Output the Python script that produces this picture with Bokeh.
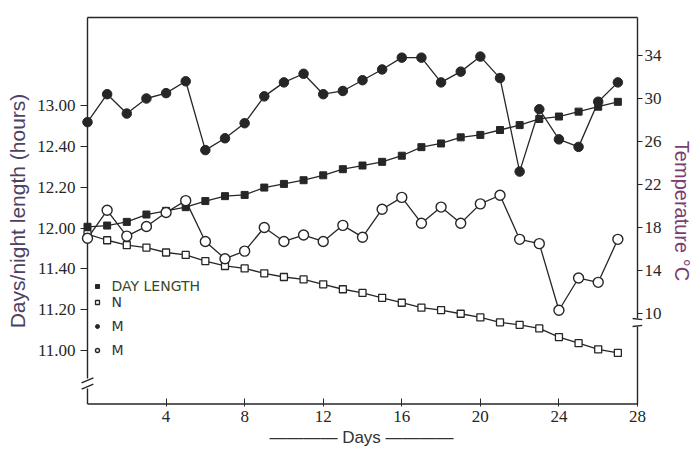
from bokeh.plotting import figure
from bokeh.models import Range1d, LinearAxis, FixedTicker, Legend, LegendItem
from bokeh.embed import file_html
from bokeh.resources import INLINE

# ---------------- data ----------------
days = list(range(28))
day_length = [12.01, 12.02, 12.05, 12.11, 12.14, 12.17, 12.22, 12.26, 12.27, 12.33,
              12.36, 12.39, 12.43, 12.48, 12.51, 12.54, 12.59, 12.66, 12.69, 12.74,
              12.76, 12.80, 12.84, 12.89, 12.91, 12.95, 12.99, 13.03]
night_length = [11.95, 11.90, 11.86, 11.84, 11.80, 11.78, 11.73, 11.69, 11.67, 11.63,
                11.60, 11.58, 11.54, 11.50, 11.47, 11.43, 11.39, 11.35, 11.33, 11.30,
                11.27, 11.23, 11.21, 11.18, 11.11, 11.06, 11.01, 10.98]
max_temp = [27.8, 30.4, 28.6, 30.0, 30.5, 31.6, 25.2, 26.3, 27.7, 30.2,
            31.5, 32.3, 30.4, 30.7, 31.7, 32.7, 33.8, 33.8, 31.5, 32.5,
            33.9, 31.9, 23.2, 29.0, 26.2, 25.5, 29.7, 31.5]
min_temp = [17.0, 19.6, 17.2, 18.1, 19.4, 20.5, 16.7, 15.1, 15.8, 18.0,
            16.7, 17.3, 16.7, 18.2, 17.1, 19.7, 20.8, 18.4, 19.9, 18.4,
            20.2, 21.0, 16.9, 16.5, 10.3, 13.3, 12.9, 16.9]

x_ticks = [4, 8, 12, 16, 20, 24, 28]
hour_ticks = [11.0, 11 + 1 / 3, 11 + 2 / 3, 12.0, 12 + 1 / 3, 12 + 2 / 3, 13.0]
hour_labels = ["11.00", "11.20", "11.40", "12.00", "12.20", "12.40", "13.00"]
temp_ticks = [10, 14, 18, 22, 26, 30, 34]
legend_labels = ["DAY LENGTH", "N", "M", "M"]
x_title = "\u2014\u2014\u2014\u2014 Days \u2014\u2014\u2014\u2014"
left_title = "Days/night length (hours)"
right_title = "Temperature \u00b0C"

# ---------------- layout constants ----------------
X_RANGE = (-0.3564, 28.2545)
HOUR_RANGE = (10.5429, 13.7347)
TEMP_RANGE = (1.349, 37.721)
FRAME_TOP_H = 13.7184      # top frame line (hours)
FRAME_BOT_H = 10.5633      # bottom frame line (hours)
LEFT_X, RIGHT_X = 0, 28    # vertical frame lines (days)
LEFT_BREAK = (10.7714, 10.6898)   # gap in left axis (hours)
RIGHT_BREAK = (9.535, 8.791)      # gap in right axis (deg C)
DX = 0.25

INK = "#262626"
TICK_FONT = "Liberation Sans Narrow"

p = figure(width=695, height=456, x_range=Range1d(*X_RANGE), y_range=Range1d(*HOUR_RANGE),
           output_backend="svg", toolbar_location=None,
           min_border_left=80, min_border_right=53, min_border_top=15, min_border_bottom=50,
           outline_line_color=None, background_fill_color="white", border_fill_color="white")
p.extra_y_ranges = {"temp": Range1d(*TEMP_RANGE)}
p.grid.visible = False

# ---------------- frame drawn as segments (with axis breaks) ----------------
p.segment(x0=[LEFT_X], y0=[FRAME_TOP_H], x1=[RIGHT_X], y1=[FRAME_TOP_H], line_color=INK, line_width=1.4)
p.segment(x0=[LEFT_X], y0=[FRAME_BOT_H], x1=[RIGHT_X], y1=[FRAME_BOT_H], line_color=INK, line_width=1.4)
p.segment(x0=[LEFT_X, LEFT_X], y0=[FRAME_TOP_H, LEFT_BREAK[1]], x1=[LEFT_X, LEFT_X],
          y1=[LEFT_BREAK[0], FRAME_BOT_H], line_color=INK, line_width=1.4)
p.segment(x0=[LEFT_X - DX * 1.2, LEFT_X - DX * 1.2],
          y0=[LEFT_BREAK[0] - 0.035, LEFT_BREAK[1] - 0.005],
          x1=[LEFT_X + DX * 1.2, LEFT_X + DX * 1.2],
          y1=[LEFT_BREAK[0] + 0.005, LEFT_BREAK[1] + 0.035], line_color=INK, line_width=1.4)
TOP_T = TEMP_RANGE[0] + (FRAME_TOP_H - HOUR_RANGE[0]) / (HOUR_RANGE[1] - HOUR_RANGE[0]) * (TEMP_RANGE[1] - TEMP_RANGE[0])
BOT_T = TEMP_RANGE[0] + (FRAME_BOT_H - HOUR_RANGE[0]) / (HOUR_RANGE[1] - HOUR_RANGE[0]) * (TEMP_RANGE[1] - TEMP_RANGE[0])
p.segment(x0=[RIGHT_X, RIGHT_X], y0=[TOP_T, RIGHT_BREAK[1]], x1=[RIGHT_X, RIGHT_X],
          y1=[RIGHT_BREAK[0], BOT_T], line_color=INK, line_width=1.4, y_range_name="temp")
p.segment(x0=[RIGHT_X - DX, RIGHT_X - DX], y0=[RIGHT_BREAK[0], RIGHT_BREAK[1]],
          x1=[RIGHT_X + DX, RIGHT_X + DX], y1=[RIGHT_BREAK[0] - 0.1, RIGHT_BREAK[1] + 0.1],
          line_color=INK, line_width=1.4, y_range_name="temp")

# ---------------- series ----------------
p.line(days, day_length, line_color=INK, line_width=1.3)
p.line(days, night_length, line_color=INK, line_width=1.3)
p.line(days, max_temp, line_color=INK, line_width=1.3, y_range_name="temp")
p.line(days, min_temp, line_color=INK, line_width=1.3, y_range_name="temp")

r_day = p.scatter(days, day_length, marker="square", size=7, fill_color=INK, line_color=INK)
r_night = p.scatter(days, night_length, marker="square", size=7, fill_color="white",
                    line_color=INK, line_width=1.3)
r_max = p.scatter(days, max_temp, marker="circle", size=9.5, fill_color=INK, line_color=INK,
                  y_range_name="temp")
r_min = p.scatter(days, min_temp, marker="circle", size=10, fill_color="white", line_color=INK,
                  line_width=1.4, y_range_name="temp")

# ---------------- axes ----------------
xa = p.xaxis[0]
xa.ticker = FixedTicker(ticks=x_ticks)
xa.axis_line_color = None
xa.major_tick_in = 8
xa.major_tick_out = 0
xa.major_tick_line_color = INK
xa.minor_tick_line_color = None
xa.major_label_standoff = 4
xa.major_label_text_font = TICK_FONT
xa.major_label_text_font_size = "17px"
xa.major_label_text_color = INK
xa.axis_label = x_title
xa.axis_label_text_font = "Liberation Sans"
xa.axis_label_text_font_size = "17px"
xa.axis_label_text_font_style = "normal"
xa.axis_label_text_color = "#333333"
xa.axis_label_standoff = 3

ya = p.yaxis[0]
ya.ticker = FixedTicker(ticks=hour_ticks)
ya.major_label_overrides = {t: s for t, s in zip(hour_ticks, hour_labels)}
ya.axis_line_color = None
ya.major_tick_in = 7
ya.major_tick_out = 0
ya.major_tick_line_color = INK
ya.minor_tick_line_color = None
ya.major_label_standoff = 5
ya.major_label_text_font = TICK_FONT
ya.major_label_text_font_size = "17px"
ya.major_label_text_color = INK
ya.axis_label = left_title
ya.axis_label_text_font = "Liberation Sans"
ya.axis_label_text_font_size = "21px"
ya.axis_label_text_font_style = "normal"
ya.axis_label_text_color = "#4d4163"
ya.axis_label_standoff = 5

ra = LinearAxis(y_range_name="temp", ticker=FixedTicker(ticks=temp_ticks))
ra.axis_line_color = None
ra.major_tick_in = 5
ra.major_tick_out = 0
ra.major_tick_line_color = INK
ra.minor_tick_line_color = None
ra.major_label_standoff = 2
ra.major_label_text_font = TICK_FONT
ra.major_label_text_font_size = "17px"
ra.major_label_text_color = INK
ra.axis_label = right_title
ra.axis_label_text_font = "Liberation Sans"
ra.axis_label_text_font_size = "20px"
ra.axis_label_text_font_style = "normal"
ra.axis_label_text_color = "#7a3d72"
ra.axis_label_standoff = 6
p.add_layout(ra, "right")

# ---------------- legends ----------------
common = dict(padding=0, margin=0, spacing=8, glyph_width=10, glyph_height=14, label_height=14,
              label_standoff=10, border_line_color=None, background_fill_alpha=0,
              label_text_font="DejaVu Sans", label_text_font_size="14px")
leg_a = Legend(items=[LegendItem(label=legend_labels[0], renderers=[r_day])],
               location=(11.5, 112), label_text_color="#3b4a26", **common)
leg_b = Legend(items=[LegendItem(label=legend_labels[1], renderers=[r_night]),
                      LegendItem(label=legend_labels[2], renderers=[r_max]),
                      LegendItem(label=legend_labels[3], renderers=[r_min])],
               location=(11.5, 48), label_text_color="#333333", **common)
p.add_layout(leg_a, "center")
p.add_layout(leg_b, "center")

open("out.html", "w").write(file_html(p, INLINE))
